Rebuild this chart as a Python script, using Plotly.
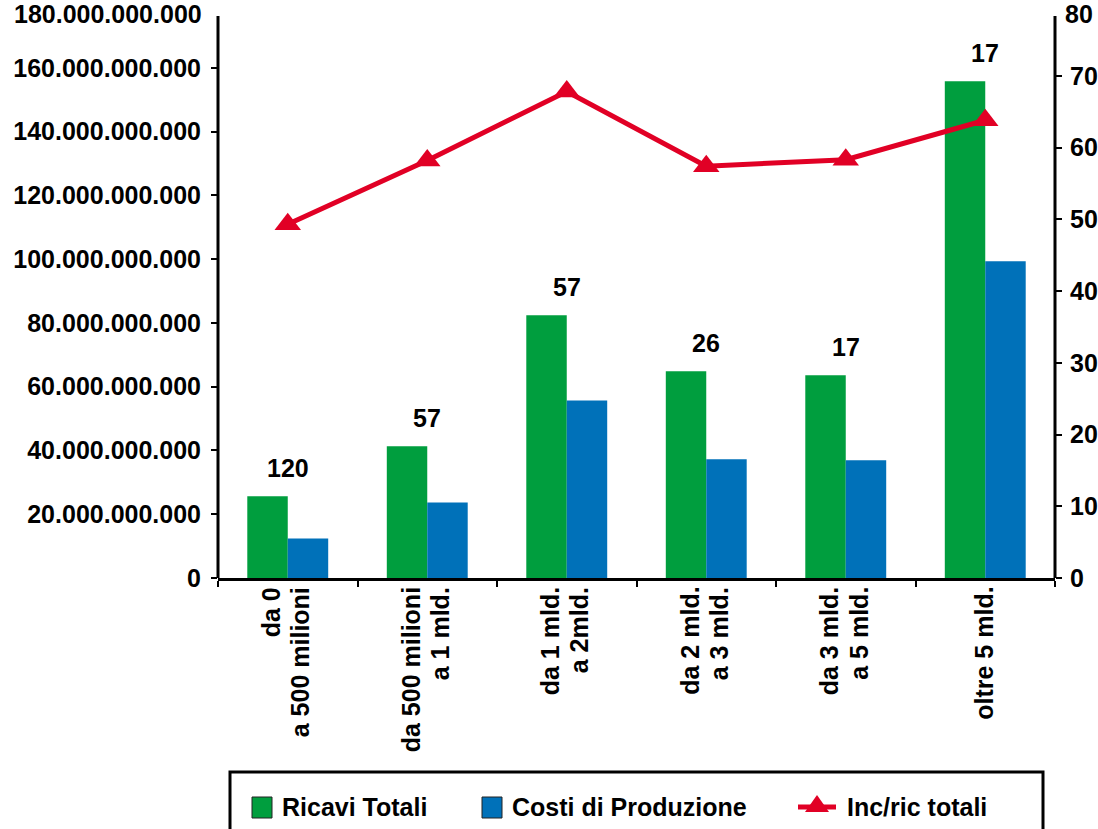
import plotly.graph_objects as go

# ---------------- data ----------------
category_lines = [
    ["da 0", "a 500 milioni"],
    ["da 500 milioni", "a 1 mld."],
    ["da 1 mld.", "a 2mld."],
    ["da 2 mld.", "a 3 mld."],
    ["da 3 mld.", "a 5 mld."],
    ["oltre 5 mld."],
]
categories = [" ".join(l) for l in category_lines]

ricavi_totali = [25.6e9, 41.3e9, 82.4e9, 64.8e9, 63.6e9, 155.8e9]
costi_produzione = [12.4e9, 23.7e9, 55.7e9, 37.2e9, 36.9e9, 99.3e9]
inc_ric_totali = [49.3, 58.2, 67.8, 57.4, 58.3, 63.8]
counts = ["120", "57", "57", "26", "17", "17"]

left_tickvals = [0, 20e9, 40e9, 60e9, 80e9, 100e9, 120e9, 140e9, 160e9, 180e9]
left_ticktext = ["0", "20.000.000.000", "40.000.000.000", "60.000.000.000",
                 "80.000.000.000", "100.000.000.000", "120.000.000.000",
                 "140.000.000.000", "160.000.000.000", "180.000.000.000"]
right_tickvals = [0, 10, 20, 30, 40, 50, 60, 70, 80]
right_ticktext = ["0", "10", "20", "30", "40", "50", "60", "70", "80"]

legend_names = ["Ricavi Totali", "Costi di Produzione", "Inc/ric totali"]

# ---------------- style ----------------
GREEN = "#009E3E"
BLUE = "#0071B9"
RED = "#E10025"
FONT = "Liberation Sans, Arial, Helvetica, sans-serif"

W, H = 1098, 829
ML, MR, MT, MB = 218, 43, 4, 251
PW, PH = W - ML - MR, H - MT - MB


def px2x(px):
    return (px - ML) / PW


def px2y(py):
    return (H - MB - py) / PH


def bold(size):
    return dict(family=FONT, size=size, color="black", weight=700)


fig = go.Figure()
fig.add_trace(go.Bar(x=categories, y=ricavi_totali, name=legend_names[0],
                     marker=dict(color=GREEN, line=dict(width=0)), showlegend=False))
fig.add_trace(go.Bar(x=categories, y=costi_produzione, name=legend_names[1],
                     marker=dict(color=BLUE, line=dict(width=0)), showlegend=False))
fig.add_trace(go.Scatter(x=categories, y=inc_ric_totali, name=legend_names[2], yaxis="y2",
                         mode="lines+markers", line=dict(color=RED, width=5),
                         marker=dict(symbol="triangle-up", size=23, color=RED),
                         showlegend=False))

annotations = []
# counts above bar groups
for c, v, t in zip(categories, ricavi_totali, counts):
    annotations.append(dict(x=c, y=v, xref="x", yref="y", text=t, showarrow=False,
                            yanchor="bottom", yshift=12, font=bold(25)))
# category labels (rotated)
for c, lines in zip(categories, category_lines):
    n = len(lines)
    for i, line in enumerate(lines):
        shift = (i - (n - 1) / 2) * 29 - 2
        annotations.append(dict(x=c, y=0, xref="x", yref="paper", text=line,
                                showarrow=False, textangle=-90, yanchor="top",
                                xanchor="center", yshift=-7, xshift=shift,
                                font=bold(25)))
# top tick labels, at the very top edge of the page
annotations.append(dict(x=0, y=left_tickvals[-1], xref="paper", yref="y",
                        text=left_ticktext[-1], showarrow=False, xanchor="right",
                        yanchor="middle", xshift=-14, yshift=-10, font=bold(25)))
annotations.append(dict(x=1, y=right_tickvals[-1], xref="paper", yref="y2",
                        text=right_ticktext[-1], showarrow=False, xanchor="left",
                        yanchor="middle", xshift=8, yshift=-10, font=bold(25)))

shapes = []
# axis lines (they stop a little below the top of the plot)
for xp in (0, 1):
    shapes.append(dict(type="line", xref="paper", yref="paper", x0=xp, x1=xp,
                       y0=0, y1=px2y(16), line=dict(color="black", width=3)))

# custom legend
shapes.append(dict(type="rect", xref="paper", yref="paper",
                   x0=px2x(230), x1=px2x(1043), y0=px2y(772), y1=px2y(845),
                   line=dict(color="black", width=3), fillcolor="rgba(0,0,0,0)"))
for x0, col in ((252, GREEN), (482, BLUE)):
    shapes.append(dict(type="rect", xref="paper", yref="paper",
                       x0=px2x(x0), x1=px2x(x0 + 20), y0=px2y(797), y1=px2y(818),
                       line=dict(color="#222", width=1), fillcolor=col))
shapes.append(dict(type="line", xref="paper", yref="paper",
                   x0=px2x(798), x1=px2x(836), y0=px2y(807), y1=px2y(807),
                   line=dict(color=RED, width=5)))
tri = "M {:.5f},{:.5f} L {:.5f},{:.5f} L {:.5f},{:.5f} Z".format(
    px2x(805), px2y(812), px2x(829), px2y(812), px2x(817), px2y(795))
shapes.append(dict(type="path", xref="paper", yref="paper", path=tri,
                   fillcolor=RED, line=dict(color=RED, width=0)))
for xpx, name in zip((280, 510, 845), legend_names):
    annotations.append(dict(x=px2x(xpx), y=px2y(807), xref="paper", yref="paper",
                            text=name, showarrow=False, xanchor="left", yanchor="middle",
                            font=bold(25)))

fig.update_layout(
    width=W, height=H,
    margin=dict(l=ML, r=MR, t=MT, b=MB, pad=0, autoexpand=False),
    paper_bgcolor="white", plot_bgcolor="white",
    barmode="group", bargap=0.42, bargroupgap=0,
    showlegend=False,
    font=bold(25),
    xaxis=dict(type="category", range=[-0.5, 5.5], showline=True, linecolor="black",
               linewidth=3, ticks="outside", tickson="boundaries", ticklen=6,
               tickwidth=2, tickcolor="black", showticklabels=False, showgrid=False,
               zeroline=False, automargin=False),
    yaxis=dict(range=[0, 180e9], tickvals=left_tickvals[:-1], ticktext=left_ticktext[:-1],
               ticks="outside", ticklen=6, tickwidth=2, tickcolor="black",
               showline=False, showgrid=False, zeroline=False, automargin=False,
               tickfont=bold(25), ticklabelstandoff=5),
    yaxis2=dict(range=[0, 80], tickvals=right_tickvals[:-1], ticktext=right_ticktext[:-1],
                overlaying="y", side="right", ticks="outside", ticklen=6, tickwidth=2,
                tickcolor="black", showline=False, showgrid=False, zeroline=False,
                automargin=False, tickfont=bold(25), ticklabelstandoff=3),
    annotations=annotations,
    shapes=shapes,
)

fig.write_html("out.html")
